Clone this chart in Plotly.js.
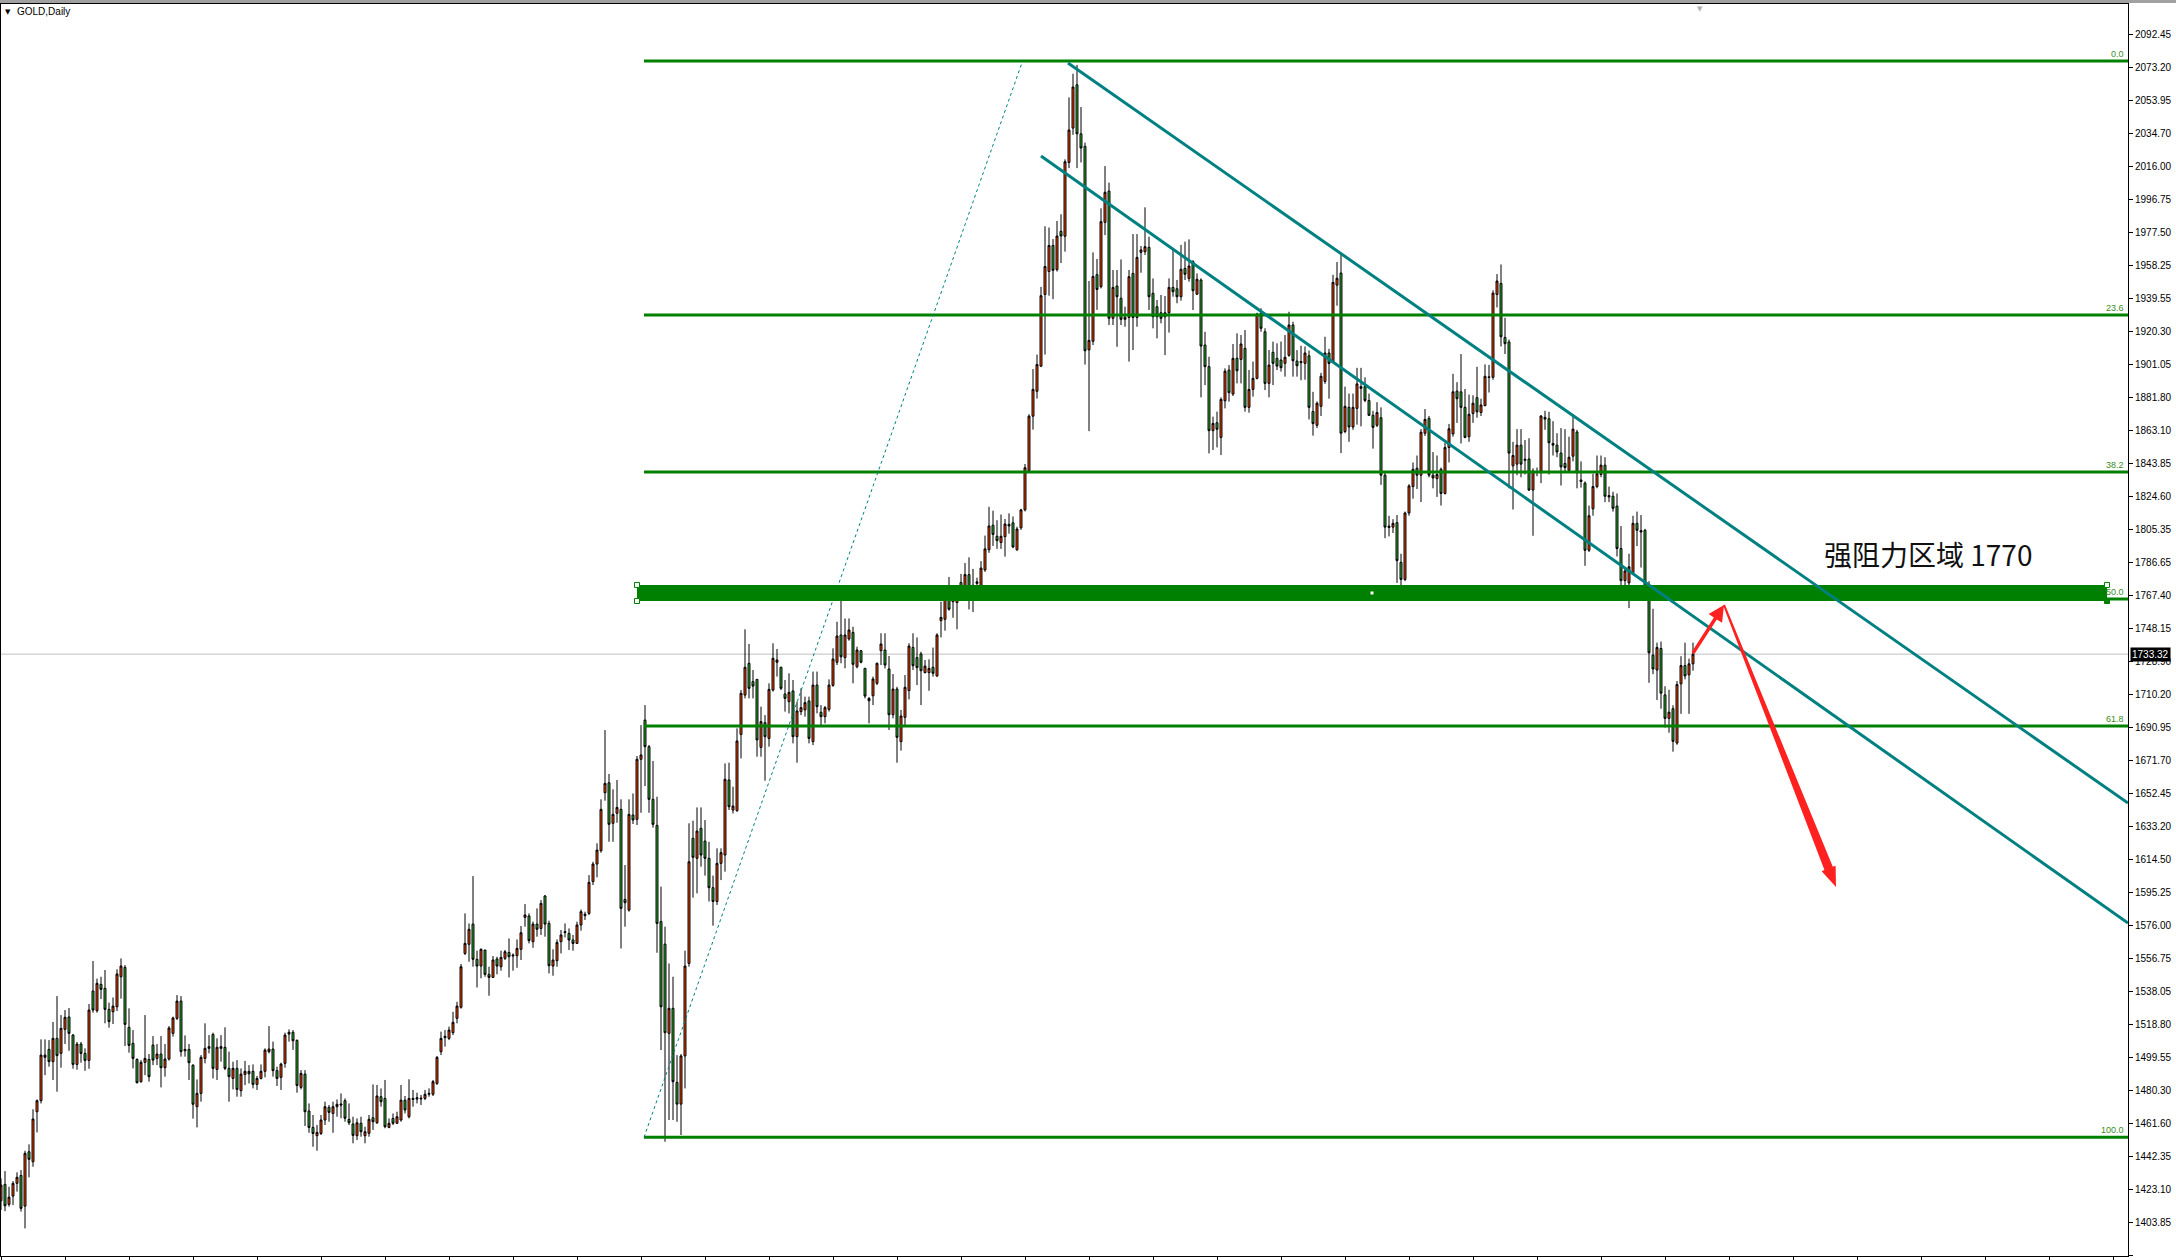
<!DOCTYPE html>
<html>
<head>
<meta charset="utf-8">
<script src="https://cdn.plot.ly/plotly-3.0.1.min.js"></script>
<style>
  html, body { margin: 0; padding: 0; background: #ffffff; }
  #chart { width: 2176px; height: 1260px; }
</style>
</head>
<body>
<div id="chart"></div>
<script>
// GOLD daily bars, oldest first (bar index = position in the arrays)
const opens = [
1416.6,1426.1,1414.5,1419.3,1426.7,1431.3,1413.5,1445.0,1439.2,1468.2,
1474.6,1499.7,1504.3,1497.2,1510.7,1502.0,1515.9,1523.1,1512.6,1495.6,
1507.4,1502.0,1497.9,1538.1,1526.7,1542.0,1539.7,1527.5,1526.1,1529.0,
1546.4,1551.8,1517.1,1507.8,1498.5,1485.6,1496.8,1498.5,1506.8,1499.1,
1501.6,1493.7,1498.7,1513.6,1522.3,1532.3,1503.5,1504.3,1495.2,1471.1,
1478.8,1499.1,1504.9,1513.0,1492.7,1504.9,1505.5,1493.3,1487.5,1493.3,
1480.4,1489.8,1491.6,1491.6,1484.0,1487.5,1491.6,1503.0,1504.5,1492.0,
1488.1,1496.2,1513.2,1514.2,1509.5,1482.3,1490.0,1468.6,1459.1,1454.3,
1455.6,1463.4,1470.7,1467.2,1471.1,1472.7,1474.6,1463.8,1461.1,1454.3,
1461.5,1454.3,1455.7,1464.7,1461.8,1476.9,1475.9,1459.1,1464.3,1461.5,
1463.4,1474.9,1465.3,1475.9,1475.5,1476.1,1475.9,1478.3,1478.3,1484.6,
1503.0,1511.1,1510.7,1514.0,1522.3,1528.7,1559.9,1565.2,1576.9,1556.5,
1552.6,1561.9,1547.8,1546.0,1556.7,1552.2,1557.1,1560.5,1558.4,1558.6,
1562.3,1580.8,1581.6,1566.7,1576.9,1574.4,1593.2,1577.3,1552.6,1555.7,
1566.7,1572.0,1571.5,1567.7,1565.7,1576.4,1581.8,1583.1,1601.5,1611.7,
1619.4,1653.0,1658.8,1635.3,1641.1,1643.4,1591.2,1585.0,1640.1,1637.6,
1672.4,1695.1,1679.7,1649.2,1634.1,1578.3,1565.3,1513.6,1528.1,1485.2,
1472.6,1500.5,1554.1,1626.6,1615.0,1632.4,1625.0,1615.0,1598.0,1590.0,
1612.1,1616.9,1660.4,1643.0,1642.6,1686.8,1709.6,1728.0,1717.4,1718.7,
1679.3,1693.6,1684.5,1712.5,1728.6,1725.7,1710.2,1705.8,1712.0,1685.5,
1700.0,1701.0,1706.2,1682.6,1715.4,1699.6,1697.1,1701.3,1715.2,1728.6,
1744.4,1731.3,1742.1,1745.9,1726.0,1735.3,1725.1,1707.6,1709.2,1716.4,
1735.3,1735.7,1724.7,1698.2,1713.1,1682.6,1696.7,1712.2,1737.2,1731.3,
1733.4,1722.6,1722.6,1725.7,1720.6,1752.7,1753.5,1768.1,1763.7,1763.2,
1774.8,1769.9,1779.4,1768.8,1774.3,1772.1,1782.1,1793.8,1808.0,1801.6,
1798.0,1801.4,1808.5,1809.4,1793.8,1806.5,1816.9,1839.7,1871.2,1885.6,
1900.2,1941.7,1955.0,1970.1,1956.1,1978.3,1975.4,2018.2,2038.1,2063.2,
2034.8,2027.5,1909.6,1914.6,1953.2,1946.2,1983.5,2001.6,1927.9,1946.6,
1939.5,1927.3,1928.4,1953.9,1928.4,1966.1,1966.5,1969.0,1942.4,1934.6,
1931.1,1928.8,1931.1,1945.8,1945.0,1940.4,1956.8,1951.0,1960.7,1941.9,
1950.1,1912.4,1899.9,1862.8,1867.4,1858.9,1880.1,1897.9,1884.0,1904.7,
1904.1,1910.5,1876.3,1886.7,1893.1,1930.8,1920.1,1890.2,1908.2,1904.7,
1903.7,1901.8,1906.4,1924.0,1903.1,1902.2,1901.8,1906.2,1873.9,1865.9,
1876.9,1891.3,1907.8,1902.8,1947.1,1954.1,1862.3,1876.3,1864.9,1875.7,
1888.3,1888.3,1880.3,1871.7,1865.9,1870.3,1837.0,1807.5,1806.9,1809.5,
1786.5,1776.6,1815.1,1830.4,1841.0,1837.0,1861.3,1869.9,1837.0,1835.0,
1840.4,1826.4,1853.0,1860.9,1885.7,1885.3,1876.3,1859.3,1872.7,1881.9,
1873.3,1877.3,1894.0,1893.7,1941.7,1948.1,1916.8,1914.2,1842.4,1843.4,
1854.4,1845.6,1846.4,1828.4,1839.0,1839.4,1870.5,1869.7,1855.4,1854.4,
1849.8,1843.8,1839.8,1848.0,1862.0,1834.2,1832.4,1793.5,1817.5,1830.4,
1837.4,1842.8,1825.2,1824.8,1819.1,1794.5,1775.9,1774.6,1780.5,1809.1,
1804.9,1805.1,1770.0,1732.7,1724.1,1736.6,1709.7,1696.1,1701.7,1681.8,
1716.1,1726.7,1721.3,1727.7
];
const highs = [
1429.6,1433.8,1424.7,1428.0,1433.1,1434.4,1445.6,1449.3,1469.6,1475.3,
1510.1,1510.1,1509.7,1520.2,1535.2,1524.2,1527.1,1528.3,1513.2,1508.6,
1508.6,1504.9,1530.6,1555.5,1545.3,1546.4,1550.3,1531.4,1534.4,1550.7,
1557.0,1553.2,1528.1,1515.5,1499.1,1498.1,1524.2,1501.6,1512.0,1507.4,
1512.0,1507.4,1517.8,1523.3,1535.8,1535.2,1512.4,1507.4,1495.6,1486.9,
1501.0,1519.4,1512.6,1514.0,1510.7,1512.6,1517.1,1503.0,1497.2,1498.1,
1493.3,1497.6,1495.2,1495.6,1488.9,1495.6,1504.9,1517.8,1508.8,1494.3,
1496.6,1514.0,1515.9,1515.5,1510.1,1492.3,1492.3,1473.0,1466.3,1460.5,
1466.3,1474.0,1472.1,1474.0,1475.3,1478.8,1475.9,1473.0,1465.3,1464.3,
1465.3,1459.5,1466.3,1484.0,1483.7,1481.7,1486.6,1464.3,1467.2,1468.2,
1483.7,1477.3,1487.0,1480.8,1479.2,1477.9,1480.8,1481.7,1486.6,1500.5,
1514.6,1515.5,1517.5,1526.1,1531.9,1553.8,1583.1,1577.3,1604.7,1561.5,
1562.8,1561.9,1552.2,1558.4,1558.0,1561.5,1561.9,1568.6,1559.9,1568.0,
1575.8,1588.5,1583.1,1578.3,1586.0,1590.8,1593.7,1578.9,1562.3,1568.0,
1573.5,1577.3,1574.4,1570.6,1578.3,1585.4,1584.1,1605.3,1613.0,1623.7,
1649.2,1689.3,1663.9,1655.0,1660.4,1649.2,1611.1,1649.2,1652.6,1674.3,
1692.2,1703.8,1680.7,1671.4,1650.7,1598.6,1575.4,1554.1,1546.4,1501.0,
1501.6,1561.5,1635.3,1636.8,1644.5,1644.5,1637.2,1624.6,1605.0,1620.8,
1620.8,1670.0,1670.4,1656.5,1690.3,1712.5,1747.7,1739.2,1724.1,1718.7,
1702.9,1698.0,1716.4,1739.6,1736.3,1726.0,1718.3,1722.2,1718.3,1705.8,
1713.5,1708.7,1708.7,1723.2,1723.2,1703.8,1703.3,1718.7,1736.7,1752.1,
1764.7,1754.0,1754.0,1749.2,1737.6,1735.7,1725.1,1708.5,1720.3,1728.4,
1745.4,1745.4,1732.2,1721.8,1714.4,1701.0,1721.2,1739.6,1745.4,1743.0,
1734.7,1729.9,1730.3,1737.1,1745.4,1763.7,1768.5,1778.0,1770.5,1773.2,
1779.8,1786.1,1789.4,1782.7,1777.6,1787.2,1802.0,1818.7,1816.4,1810.9,
1814.2,1811.6,1814.9,1813.1,1807.1,1817.5,1843.5,1872.3,1898.5,1906.9,
1946.1,1981.2,1980.5,1973.8,1984.3,1988.2,2020.0,2055.9,2069.6,2074.7,
2050.3,2029.7,1949.5,1966.1,1962.3,1991.6,2016.1,2006.5,1955.9,1955.9,
1962.0,1934.6,1955.9,1976.7,1976.7,1969.8,1992.2,1975.2,1951.0,1938.5,
1941.4,1940.8,1951.0,1967.5,1950.1,1970.4,1972.3,1973.6,1961.6,1953.9,
1951.0,1920.1,1905.6,1870.9,1873.8,1882.1,1898.9,1900.8,1913.0,1919.2,
1918.2,1921.1,1897.9,1902.8,1931.1,1933.7,1922.1,1909.5,1914.4,1913.4,
1914.4,1918.2,1931.7,1925.9,1909.5,1912.0,1911.6,1909.2,1885.3,1879.7,
1896.3,1917.2,1910.2,1953.1,1960.5,1965.1,1888.3,1884.3,1884.3,1899.2,
1899.2,1893.7,1884.3,1874.3,1879.3,1876.3,1839.4,1813.5,1811.5,1813.9,
1791.5,1815.9,1831.8,1844.4,1848.4,1863.7,1875.3,1871.3,1850.4,1848.4,
1841.4,1855.8,1866.7,1895.7,1890.9,1907.2,1886.9,1883.7,1883.3,1899.8,
1881.3,1901.2,1900.9,1944.1,1953.5,1959.1,1928.2,1915.6,1856.3,1863.7,
1863.7,1857.4,1858.4,1841.0,1841.4,1871.7,1874.3,1873.7,1868.3,1861.3,
1864.3,1863.7,1859.3,1871.3,1863.3,1845.0,1833.4,1819.4,1837.8,1848.4,
1848.4,1847.4,1830.4,1827.4,1826.4,1807.5,1783.5,1791.5,1813.5,1815.9,
1813.9,1805.9,1775.6,1759.6,1740.0,1740.6,1714.7,1712.7,1703.7,1717.7,
1732.1,1740.0,1730.7,1740.0
];
const lows = [
1411.2,1410.6,1413.2,1414.1,1421.9,1410.3,1400.6,1430.2,1436.3,1456.2,
1473.0,1489.4,1494.3,1486.6,1479.8,1493.7,1507.4,1503.5,1493.1,1492.5,
1496.6,1491.9,1493.1,1525.6,1525.6,1533.5,1519.4,1516.9,1519.0,1526.5,
1533.7,1506.3,1502.4,1493.3,1484.6,1485.0,1489.4,1485.6,1495.2,1495.2,
1482.3,1488.5,1497.8,1511.7,1521.3,1500.1,1500.1,1486.6,1464.2,1459.1,
1474.0,1496.2,1502.0,1487.5,1486.6,1497.2,1492.3,1474.0,1481.1,1476.9,
1476.9,1483.6,1484.6,1481.7,1480.8,1486.9,1488.1,1502.0,1488.5,1483.1,
1480.8,1493.7,1508.8,1504.0,1479.2,1481.1,1459.9,1456.0,1447.9,1445.6,
1454.7,1460.5,1462.4,1456.0,1465.3,1464.4,1462.4,1460.5,1449.9,1451.8,
1453.7,1449.9,1453.7,1457.6,1461.1,1471.1,1458.6,1458.6,1460.5,1461.1,
1462.4,1467.2,1464.3,1471.1,1473.0,1472.1,1474.9,1476.9,1477.3,1483.7,
1501.0,1505.9,1509.7,1512.6,1519.4,1527.9,1559.0,1555.1,1552.2,1540.2,
1545.5,1546.4,1535.4,1546.0,1547.8,1549.9,1556.1,1546.0,1549.9,1551.6,
1556.1,1575.4,1565.7,1563.2,1569.6,1570.6,1569.6,1548.3,1547.0,1552.2,
1559.9,1569.2,1561.9,1561.5,1565.7,1573.1,1579.3,1582.1,1599.5,1604.0,
1618.3,1648.4,1624.6,1624.6,1635.6,1562.8,1575.4,1584.1,1634.9,1634.3,
1641.4,1656.9,1641.4,1632.8,1560.3,1503.9,1450.8,1463.4,1463.4,1462.4,
1454.7,1481.7,1552.2,1592.2,1594.7,1610.2,1605.0,1590.0,1576.0,1588.0,
1602.4,1607.3,1643.0,1641.0,1642.0,1672.9,1707.7,1707.7,1707.7,1673.9,
1673.9,1660.0,1679.7,1711.6,1720.3,1712.5,1700.0,1699.0,1681.6,1670.4,
1698.0,1697.1,1681.6,1680.6,1699.0,1691.3,1693.2,1700.0,1714.4,1727.0,
1728.0,1725.1,1741.1,1716.4,1725.1,1728.0,1707.7,1693.2,1703.8,1715.4,
1727.0,1725.0,1689.4,1696.1,1670.4,1677.4,1692.2,1707.1,1724.1,1715.4,
1703.8,1722.2,1712.1,1720.3,1720.3,1743.0,1746.9,1758.5,1754.4,1747.7,
1766.6,1766.6,1759.2,1757.7,1773.2,1769.9,1781.0,1792.0,1796.0,1794.3,
1794.3,1789.8,1803.1,1794.7,1793.2,1805.3,1816.0,1839.1,1863.4,1881.4,
1899.6,1906.9,1941.0,1939.0,1955.0,1959.9,1966.5,2014.9,2034.2,2014.9,
2018.2,1901.1,1862.5,1912.4,1932.8,1945.2,1976.1,1924.0,1924.0,1911.4,
1924.0,1923.0,1902.8,1909.5,1923.0,1954.3,1964.6,1932.7,1922.1,1916.3,
1925.0,1906.6,1919.6,1940.4,1936.6,1938.1,1950.1,1949.1,1932.7,1941.4,
1882.1,1889.2,1849.6,1851.6,1853.1,1848.7,1875.7,1879.6,1882.9,1890.2,
1890.2,1873.8,1873.2,1882.5,1892.5,1920.1,1886.3,1882.1,1889.2,1897.9,
1897.0,1894.1,1905.6,1894.1,1894.1,1892.0,1892.3,1869.3,1859.9,1864.3,
1871.3,1889.9,1881.3,1902.2,1935.2,1849.8,1861.3,1856.3,1863.3,1866.3,
1865.3,1879.3,1871.3,1852.4,1864.9,1831.4,1800.5,1801.5,1803.5,1774.6,
1766.0,1775.6,1813.5,1823.4,1829.0,1821.4,1859.7,1835.8,1829.4,1824.4,
1819.4,1825.8,1844.4,1859.3,1867.3,1855.4,1858.4,1856.3,1867.3,1870.3,
1871.3,1876.9,1884.9,1892.3,1934.2,1911.6,1907.2,1829.4,1817.1,1837.0,
1835.8,1837.4,1827.8,1801.9,1836.4,1832.4,1863.3,1837.4,1848.4,1847.4,
1831.0,1839.4,1839.4,1845.0,1829.4,1829.8,1784.5,1792.5,1813.5,1829.4,
1835.8,1821.4,1821.4,1815.9,1789.9,1769.6,1767.6,1760.0,1779.5,1795.9,
1783.5,1766.0,1716.7,1721.7,1706.7,1701.7,1690.8,1687.8,1676.8,1680.8,
1698.7,1718.7,1698.7,1723.7
];
const closes = [
1425.7,1413.7,1418.7,1426.7,1430.2,1412.2,1444.1,1440.6,1464.0,1474.6,
1501.0,1501.0,1497.2,1510.7,1500.7,1516.5,1522.9,1513.6,1495.6,1507.4,
1502.0,1497.9,1527.1,1527.1,1542.6,1539.1,1527.5,1520.4,1529.4,1548.0,
1552.6,1518.8,1506.6,1499.1,1485.0,1496.8,1499.1,1488.5,1498.1,1501.6,
1493.7,1498.7,1516.7,1522.5,1532.3,1503.0,1504.3,1496.6,1472.5,1478.8,
1499.7,1504.9,1505.9,1493.3,1505.5,1505.9,1493.3,1488.5,1493.3,1481.1,
1490.0,1491.6,1490.2,1484.0,1487.5,1491.6,1503.9,1504.5,1492.0,1487.5,
1495.8,1512.6,1514.2,1509.3,1483.4,1490.4,1468.2,1459.1,1455.6,1456.2,
1463.4,1471.1,1467.8,1471.1,1472.5,1472.1,1464.4,1461.8,1454.5,1461.8,
1456.6,1456.6,1463.8,1462.4,1477.3,1474.0,1459.5,1461.5,1461.5,1465.3,
1474.9,1469.2,1475.9,1475.3,1476.3,1475.7,1478.3,1478.8,1485.6,1499.7,
1510.7,1511.9,1515.5,1520.0,1529.4,1552.2,1565.7,1573.9,1556.5,1552.6,
1562.3,1547.8,1546.0,1556.1,1552.6,1557.6,1560.9,1558.0,1558.9,1562.8,
1571.9,1582.2,1567.3,1576.9,1573.9,1588.9,1576.9,1552.8,1556.1,1566.3,
1570.6,1572.5,1567.7,1565.7,1576.4,1584.1,1582.6,1601.1,1611.7,1619.8,
1643.4,1658.4,1634.7,1640.5,1644.5,1586.0,1589.3,1640.5,1637.2,1672.4,
1674.9,1679.7,1649.2,1634.7,1577.3,1529.0,1514.0,1528.1,1485.6,1472.6,
1500.5,1552.6,1613.0,1615.6,1630.8,1616.9,1615.0,1598.0,1590.0,1612.1,
1618.3,1660.8,1644.9,1645.3,1683.0,1710.6,1725.7,1713.5,1714.8,1683.6,
1694.2,1685.5,1712.9,1730.9,1729.9,1713.5,1707.7,1711.2,1685.5,1700.4,
1702.3,1705.2,1684.5,1715.4,1702.9,1697.1,1702.3,1715.4,1730.5,1743.8,
1731.8,1744.4,1747.3,1727.4,1735.7,1728.6,1709.0,1706.3,1718.9,1728.0,
1739.2,1727.0,1698.2,1713.1,1685.1,1697.5,1714.1,1738.0,1726.6,1725.5,
1723.7,1726.4,1725.1,1722.2,1744.4,1754.6,1767.0,1759.3,1765.0,1771.6,
1772.1,1779.4,1769.9,1773.2,1775.2,1783.2,1794.3,1807.6,1802.7,1799.1,
1801.6,1808.7,1807.6,1795.4,1805.8,1816.9,1841.3,1871.2,1886.7,1901.1,
1941.0,1957.9,1970.1,1955.7,1975.6,1975.6,2018.6,2037.0,2061.9,2034.8,
2026.6,1909.1,1915.1,1952.1,1944.6,1983.9,2000.9,1927.9,1945.8,1940.4,
1927.3,1928.5,1952.0,1928.4,1963.2,1967.5,1969.4,1940.4,1928.8,1928.8,
1927.9,1931.1,1945.8,1943.3,1940.4,1956.3,1953.4,1958.2,1943.9,1950.5,
1911.8,1899.9,1862.8,1867.0,1863.6,1880.9,1897.3,1884.8,1904.7,1897.5,
1913.0,1876.3,1886.7,1893.1,1930.4,1922.1,1890.2,1900.8,1901.8,1900.2,
1899.3,1905.3,1924.0,1903.3,1900.4,1902.8,1907.8,1876.3,1866.9,1878.7,
1894.3,1907.8,1901.7,1948.7,1951.1,1861.3,1876.9,1864.9,1876.3,1889.9,
1887.3,1880.3,1871.7,1864.7,1873.3,1837.0,1806.9,1806.7,1809.1,1787.5,
1776.6,1815.1,1830.8,1840.4,1837.0,1861.9,1869.3,1837.0,1835.4,1837.4,
1826.4,1853.0,1863.9,1885.3,1881.3,1876.3,1858.9,1872.3,1878.7,1873.7,
1877.7,1894.3,1893.6,1942.5,1949.5,1917.2,1913.2,1849.8,1848.4,1854.4,
1843.4,1846.2,1828.4,1839.4,1838.6,1871.3,1869.5,1855.8,1854.4,1850.4,
1841.8,1841.4,1847.4,1863.7,1838.4,1833.4,1793.5,1813.5,1830.4,1837.8,
1842.8,1824.8,1824.4,1817.8,1794.5,1775.9,1781.5,1783.9,1809.1,1805.1,
1804.1,1770.6,1734.1,1724.7,1737.2,1710.7,1696.1,1699.7,1682.8,1715.7,
1726.7,1720.7,1727.7,1733.32
];

// price scale labels
const priceTicks = [2092.45,2073.20,2053.95,2034.70,2016.00,1996.75,1977.50,1958.25,1939.55,1920.30,
  1901.05,1881.80,1863.10,1843.85,1824.60,1805.35,1786.65,1767.40,1748.15,1728.90,1710.20,1690.95,
  1671.70,1652.45,1633.20,1614.50,1595.25,1576.00,1556.75,1538.05,1518.80,1499.55,1480.30,1461.60,
  1442.35,1423.10,1403.85,1385.15];
const lastPrice = 1733.32;

// Fibonacci retracement: swing low / swing high and their bar positions
const fibPrices = [1453.4, 2077.0];
const fibBars = [160.75, 255.4];
const fibLevels = [0.0, 23.6, 38.2, 50.0, 61.8, 100.0];

// Descending channel lines (bar, price) pairs
const upperLineBars = [266.75, 531.75];
const upperLinePrices = [2075.8, 1647.0];
const lowerLineBars = [260.0, 531.75];
const lowerLinePrices = [2021.9, 1577.5];

// Resistance zone rectangle
const zoneBars = [159.0, 526.5];
const zonePrices = [1764.1, 1773.4];
const zoneLabel = '强阻力区域 1770';
const zoneLabelPos = [455.25, 1791.3];

// Hand-drawn projection arrows (bar, price): rebound then drop
const upArrowBars = [423.0, 430.75];
const upArrowPrices = [1733.9, 1761.8];
const downArrowBars = [430.75, 458.75];
const downArrowPrices = [1761.8, 1598.4];

// chart geometry
const W = 2176, H = 1260;
const M = { l: 1, r: 48, t: 4, b: 4 };
const X_RANGE = [0, 531.75];
const Y_RANGE = [1384.6, 2110.0];
const plotW = W - M.l - M.r, plotH = H - M.t - M.b;
const pxPerBar = plotW / (X_RANGE[1] - X_RANGE[0]);
const pxPerPrice = plotH / (Y_RANGE[1] - Y_RANGE[0]);

const bars = opens.map((_, i) => i);

const candles = {
  type: 'candlestick',
  x: bars, open: opens, high: highs, low: lows, close: closes,
  increasing: { fillcolor: '#ff4500', line: { color: '#000000', width: 1 } },
  decreasing: { fillcolor: '#32b432', line: { color: '#000000', width: 1 } },
  whiskerwidth: 0,
  hoverinfo: 'skip',
  showlegend: false
};

// polygon arrow built in pixel space, returned in data coordinates
function arrowPath(bx, py, w0, w1, hw, hl) {
  const sx = bx[0] * pxPerBar, sy = -py[0] * pxPerPrice;
  const ex = bx[1] * pxPerBar, ey = -py[1] * pxPerPrice;
  const len = Math.hypot(ex - sx, ey - sy);
  const ux = (ex - sx) / len, uy = (ey - sy) / len;
  const nx = -uy, ny = ux;
  const bxp = ex - ux * hl, byp = ey - uy * hl;
  const pts = [
    [sx + nx * w0 / 2, sy + ny * w0 / 2],
    [bxp + nx * w1 / 2, byp + ny * w1 / 2],
    [bxp + nx * hw / 2, byp + ny * hw / 2],
    [ex, ey],
    [bxp - nx * hw / 2, byp - ny * hw / 2],
    [bxp - nx * w1 / 2, byp - ny * w1 / 2],
    [sx - nx * w0 / 2, sy - ny * w0 / 2]
  ];
  return 'M' + pts.map(p => (p[0] / pxPerBar).toFixed(3) + ',' + (-p[1] / pxPerPrice).toFixed(3)).join(' L') + ' Z';
}

const shapes = [];
// last price line
shapes.push({ type: 'line', xref: 'paper', yref: 'y', x0: 0, x1: 1, y0: lastPrice, y1: lastPrice,
  line: { color: '#c0c0c0', width: 1 }, layer: 'below' });

// fibonacci levels
const fibRange = fibPrices[1] - fibPrices[0];
const fibLevelPrice = fibLevels.map(l => fibPrices[1] - l / 100 * fibRange);
fibLevelPrice.forEach(p => {
  shapes.push({ type: 'line', xref: 'x', yref: 'y', x0: fibBars[0], x1: X_RANGE[1], y0: p, y1: p,
    line: { color: '#008000', width: 3 }, layer: 'above' });
});
// fibonacci trend (dotted)
shapes.push({ type: 'line', xref: 'x', yref: 'y', x0: fibBars[0], y0: fibPrices[0], x1: fibBars[1], y1: fibPrices[1],
  line: { color: '#008080', width: 1, dash: 'dot' }, layer: 'above' });

// resistance zone
shapes.push({ type: 'rect', xref: 'x', yref: 'y', x0: zoneBars[0], x1: zoneBars[1], y0: zonePrices[0], y1: zonePrices[1],
  fillcolor: '#008000', line: { width: 0 }, layer: 'above' });
// selection handles of the zone
const hb = 2.5 / pxPerBar, hp = 2.5 / pxPerPrice;
[[zoneBars[0], zonePrices[1], '#ffffff'], [zoneBars[0], zonePrices[0], '#ffffff'],
 [zoneBars[1], zonePrices[1], '#ffffff'], [zoneBars[1], zonePrices[0], '#008000']].forEach(h => {
  shapes.push({ type: 'rect', xref: 'x', yref: 'y', x0: h[0] - hb, x1: h[0] + hb, y0: h[1] - hp, y1: h[1] + hp,
    fillcolor: h[2], line: { color: '#008000', width: 1 }, layer: 'above' });
});
const midBar = (zoneBars[0] + zoneBars[1]) / 2, midPrice = (zonePrices[0] + zonePrices[1]) / 2;
shapes.push({ type: 'rect', xref: 'x', yref: 'y', x0: midBar - 1.5 / pxPerBar, x1: midBar + 1.5 / pxPerBar,
  y0: midPrice - 1.5 / pxPerPrice, y1: midPrice + 1.5 / pxPerPrice, fillcolor: '#ffffff', line: { width: 0 }, layer: 'above' });

// channel lines
shapes.push({ type: 'line', xref: 'x', yref: 'y', x0: upperLineBars[0], y0: upperLinePrices[0], x1: upperLineBars[1], y1: upperLinePrices[1],
  line: { color: '#008080', width: 3 }, layer: 'above' });
shapes.push({ type: 'line', xref: 'x', yref: 'y', x0: lowerLineBars[0], y0: lowerLinePrices[0], x1: lowerLineBars[1], y1: lowerLinePrices[1],
  line: { color: '#008080', width: 3 }, layer: 'above' });

// arrows
shapes.push({ type: 'path', xref: 'x', yref: 'y', path: arrowPath(upArrowBars, upArrowPrices, 3.5, 3.5, 16, 16),
  fillcolor: '#ff2020', line: { width: 0 }, layer: 'above' });
shapes.push({ type: 'path', xref: 'x', yref: 'y', path: arrowPath(downArrowBars, downArrowPrices, 2, 9, 15, 20),
  fillcolor: '#ff2020', line: { width: 0 }, layer: 'above' });

// window top strip
shapes.push({ type: 'rect', xref: 'paper', yref: 'paper', x0: -0.001, x1: 1.03, y0: 1 + 1 / plotH, y1: 1 + 4 / plotH,
  fillcolor: '#a0a0a0', line: { width: 0 }, layer: 'above' });

const annotations = [];
annotations.push({ xref: 'paper', yref: 'paper', x: 2 / plotW, y: 1 - 8 / plotH, xanchor: 'left', yanchor: 'middle',
  text: '▼', showarrow: false, font: { family: 'DejaVu Sans', size: 7, color: '#000000' } });
annotations.push({ xref: 'paper', yref: 'paper', x: 14 / plotW, y: 1 - 8 / plotH, xanchor: 'left', yanchor: 'middle',
  text: 'GOLD,Daily', showarrow: false, font: { family: 'Liberation Sans', size: 10, color: '#000000' } });

fibLevels.forEach((l, i) => {
  annotations.push({ xref: 'x', yref: 'y', x: X_RANGE[1], y: fibLevelPrice[i], xanchor: 'right', yanchor: 'bottom',
    xshift: -2, yshift: 0, text: l.toFixed(1), showarrow: false,
    font: { family: 'Liberation Sans', size: 9, color: '#3c8c1e' } });
});

annotations.push({ xref: 'x', yref: 'y', x: zoneLabelPos[0], y: zoneLabelPos[1], xanchor: 'left', yanchor: 'middle',
  text: zoneLabel, showarrow: false, font: { family: 'Noto Sans CJK SC', size: 28, color: '#111111' } });

// last price box on the scale
annotations.push({ xref: 'paper', yref: 'y', x: 1 + 2 / plotW, y: lastPrice, xanchor: 'left', yanchor: 'middle',
  text: lastPrice.toFixed(2), showarrow: false, bgcolor: '#000000', borderpad: 1,
  font: { family: 'Liberation Sans', size: 10, color: '#ffffff' } });

// chart-shift marker
annotations.push({ xref: 'x', yref: 'paper', x: 424.75, y: 1 + 1 / plotH, xanchor: 'center', yanchor: 'top',
  text: '▼', showarrow: false, font: { family: 'DejaVu Sans', size: 7, color: '#b0b0b0' } });

const xTicks = [];
for (let t = 0; t <= X_RANGE[1]; t += 16) xTicks.push(t);

const layout = {
  width: W, height: H,
  margin: M,
  paper_bgcolor: '#ffffff', plot_bgcolor: '#ffffff',
  showlegend: false,
  dragmode: false,
  xaxis: {
    type: 'linear', range: X_RANGE, autorange: false,
    showgrid: false, zeroline: false,
    showline: true, linecolor: '#000000', linewidth: 1, mirror: true,
    ticks: 'outside', ticklen: 4, tickcolor: '#000000', tickwidth: 1,
    tickmode: 'array', tickvals: xTicks, showticklabels: false,
    rangeslider: { visible: false }, fixedrange: true
  },
  yaxis: {
    side: 'right', range: Y_RANGE, autorange: false,
    showgrid: false, zeroline: false,
    showline: true, linecolor: '#000000', linewidth: 1, mirror: true,
    ticks: 'outside', ticklen: 4, tickcolor: '#000000', tickwidth: 1,
    tickmode: 'array', tickvals: priceTicks, ticktext: priceTicks.map(v => v.toFixed(2)),
    tickfont: { family: 'Liberation Sans', size: 10, color: '#000000' },
    automargin: false, fixedrange: true
  },
  shapes: shapes,
  annotations: annotations
};

Plotly.newPlot('chart', [candles], layout, { staticPlot: true, displayModeBar: false });
</script>
</body>
</html>
